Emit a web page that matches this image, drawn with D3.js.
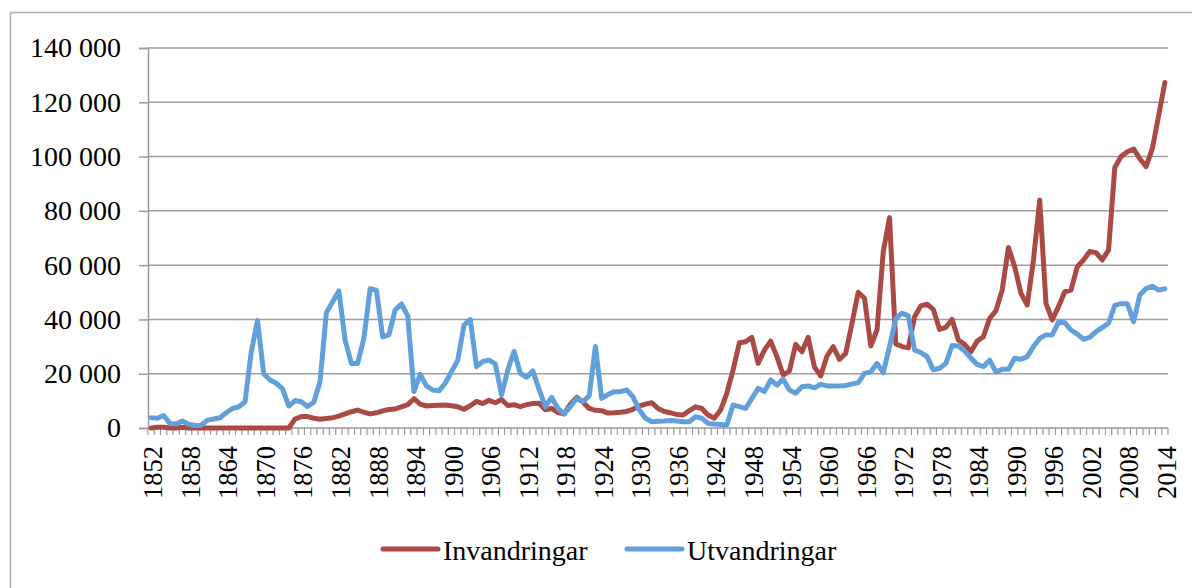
<!DOCTYPE html>
<html>
<head>
<meta charset="utf-8">
<script src="https://cdn.jsdelivr.net/npm/d3@7"></script>
<style>
  body { margin: 0; background: #fff; }
  text { font-family: "Liberation Serif", "DejaVu Serif", serif; fill: #000; }
</style>
</head>
<body>
<script>
// years 1852..2014
const years = d3.range(1852, 2015);

const tickYears = [1852, 1858, 1864, 1870, 1876, 1882, 1888, 1894, 1900, 1906, 1912, 1918,
  1924, 1930, 1936, 1942, 1948, 1954, 1960, 1966, 1972, 1978, 1984, 1990, 1996, 2002, 2008, 2014];

const yTicks = [0, 20000, 40000, 60000, 80000, 100000, 120000, 140000];

const seriesNames = ['Invandringar', 'Utvandringar'];

const invandringar = [
  0, 300, 300, 0, 0, 300, 0, 0,
  0, 0, 0, 0, 0, 0, 0, 0, 0, 0,
  0, 0, 0, 0, 0, 3300, 4200, 4200, 3600, 3200,
  3500, 3800, 4400, 5200, 6000, 6600, 5800, 5200, 5600, 6300,
  6800, 7000, 7800, 8600, 10800, 8800, 8100, 8300, 8400, 8500,
  8200, 7800, 6900, 8200, 9800, 9000, 10200, 9300, 10500, 8300,
  8600, 7900, 8600, 9000, 9100, 6700, 7200, 5700, 5200, 8800,
  11300, 9600, 7200, 6500, 6400, 5500, 5600, 5800, 6100, 6900,
  8100, 8800, 9300, 7200, 6100, 5600, 5000, 4800, 6400, 7800,
  7200, 4800, 3600, 6600, 12800, 21400, 31400, 31800, 33400, 23800,
  28700, 32000, 26300, 19500, 21000, 30800, 28100, 33400, 22500, 19200,
  26500, 30000, 25300, 27500, 38600, 50000, 47800, 30200, 36100, 65000,
  77500, 31000, 30000, 29500, 41000, 45000, 45600, 43700, 36300, 37100,
  40000, 32400, 30800, 28100, 32000, 33600, 40400, 43200, 50800, 66500,
  59400, 49600, 45300, 61900, 84000, 45900, 39800, 44700, 50200, 50800,
  59400, 61900, 65000, 64600, 61900, 65600, 96000, 100000, 101800, 102800,
  99200, 96300, 103000, 115000, 127300
];

const utvandringar = [
  3800, 3600, 4600, 1700, 1500, 2600, 1400, 900,
  1000, 2900, 3300, 3800, 5600, 7200, 7800, 9600, 28000, 39600,
  19900, 17700, 16500, 14400, 8100, 10100, 9700, 7900, 9500, 17100,
  42500, 46500, 50500, 32400, 23800, 23800, 33000, 51300, 50800, 33600,
  34300, 43500, 45700, 41400, 13400, 19800, 15500, 14000, 13700, 16500,
  20700, 25000, 37900, 40000, 22600, 24500, 25000, 23600, 12200, 21400,
  28200, 20100, 18700, 21000, 14200, 7900, 11300, 7200, 5200, 7900,
  10900, 9700, 11800, 30000, 10900, 12300, 13400, 13400, 14000, 11500,
  6600, 3600, 2300, 2500, 2600, 2800, 2600, 2300, 2300, 4200,
  3600, 1700, 1500, 1300, 1100, 8500, 7900, 7200, 10900, 14600,
  13400, 17700, 15800, 18000, 14000, 12800, 15200, 15500, 14800, 16100,
  15500, 15500, 15500, 15700, 16200, 16700, 20100, 20700, 23800, 20400,
  30000, 40400, 42300, 41300, 28700, 27800, 26300, 21400, 22000, 23800,
  30400, 30200, 28400, 25800, 23400, 22600, 25000, 20700, 21600, 21600,
  25700, 25300, 26300, 30000, 33000, 34300, 34300, 39000, 38800, 36100,
  34600, 32700, 33400, 35500, 37000, 38600, 45200, 45800, 45800, 39200,
  49000, 51400, 52200, 50800, 51300
];

const colors = ['#aa4a44', '#62a0dc'];

const width = 1192, height = 588;
const plotLeft = 148, plotRight = 1168, plotTop = 48, plotBottom = 428;

const svg = d3.select('body').append('svg')
  .attr('width', width).attr('height', height)
  .attr('xmlns', 'http://www.w3.org/2000/svg');

// outer frame (runs past right/bottom edges like the source)
svg.append('rect')
  .attr('x', 10.5).attr('y', 12.5)
  .attr('width', 1200).attr('height', 600)
  .attr('fill', 'none').attr('stroke', '#b0b0b0').attr('stroke-width', 1.5);

const x = d3.scalePoint().domain(years).range([plotLeft, plotRight]).padding(0.5);
const xb = d3.scaleBand().domain(years).range([plotLeft, plotRight]);
const y = d3.scaleLinear().domain([0, 140000]).range([plotBottom, plotTop]);

const fmt = d => d3.format(',')(d).replace(/,/g, ' ');

// y axis with gridlines
const yAxis = svg.append('g')
  .attr('transform', `translate(${plotLeft},0)`)
  .call(d3.axisLeft(y).tickValues(yTicks).tickSize(9).tickPadding(18).tickFormat(fmt));
yAxis.select('.domain').attr('stroke', '#999').attr('stroke-width', 1.5);
yAxis.selectAll('.tick line').attr('stroke', '#999').attr('stroke-width', 1.5);
yAxis.selectAll('.tick text').attr('font-size', 28).attr('font-family', '"Liberation Serif", serif');

svg.append('g')
  .selectAll('line')
  .data(yTicks.filter(d => d > 0))
  .join('line')
  .attr('x1', plotLeft).attr('x2', plotRight)
  .attr('y1', d => y(d)).attr('y2', d => y(d))
  .attr('stroke', '#9d9d9d').attr('stroke-width', 1.5);

// x axis: baseline, minor ticks between categories, labels every sixth year
svg.append('line')
  .attr('x1', plotLeft).attr('x2', plotRight)
  .attr('y1', plotBottom).attr('y2', plotBottom)
  .attr('stroke', '#999').attr('stroke-width', 1.5);

const bounds = years.map(d => xb(d)).concat([plotRight]);
svg.append('g')
  .selectAll('line')
  .data(bounds)
  .join('line')
  .attr('x1', d => d).attr('x2', d => d)
  .attr('y1', plotBottom).attr('y2', plotBottom + 7)
  .attr('stroke', '#999').attr('stroke-width', 1.2);

svg.append('g')
  .selectAll('text')
  .data(tickYears)
  .join('text')
  .attr('transform', d => `translate(${x(d)},${plotBottom + 18}) rotate(-90)`)
  .attr('text-anchor', 'end')
  .attr('dy', '0.42em')
  .attr('font-size', 26.5)
  .text(d => d);

// lines
const line = d3.line()
  .x((d, i) => x(years[i]))
  .y(d => y(d));

[invandringar, utvandringar].forEach((s, k) => {
  svg.append('path')
    .datum(s)
    .attr('d', line)
    .attr('fill', 'none')
    .attr('stroke', colors[k])
    .attr('stroke-width', 5)
    .attr('stroke-linejoin', 'round')
    .attr('stroke-linecap', 'round');
});

// legend
const legendX = [383, 627];
const legend = svg.append('g');
seriesNames.forEach((name, k) => {
  legend.append('line')
    .attr('x1', legendX[k]).attr('x2', legendX[k] + 55)
    .attr('y1', 549).attr('y2', 549)
    .attr('stroke', colors[k]).attr('stroke-width', 5)
    .attr('stroke-linecap', 'round');
  legend.append('text')
    .attr('x', legendX[k] + 60).attr('y', 560)
    .attr('font-size', 28)
    .text(name);
});
</script>
</body>
</html>
